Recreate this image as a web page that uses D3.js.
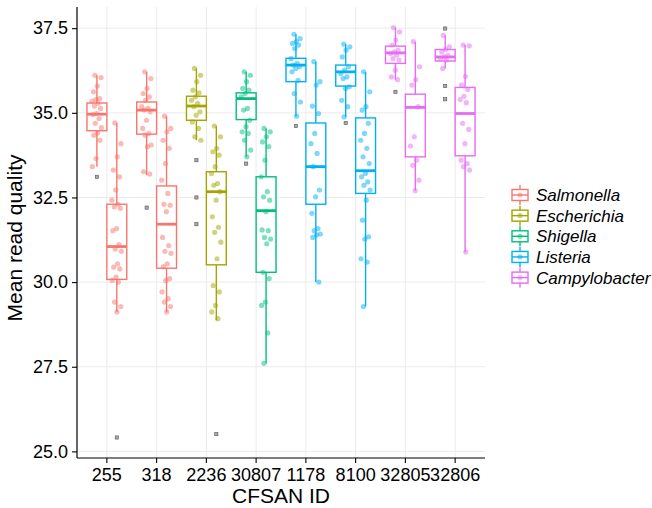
<!DOCTYPE html>
<html>
<head>
<meta charset="utf-8">
<script src="https://cdn.jsdelivr.net/npm/d3@7"></script>
<style>
  body { margin: 0; background: #fff; }
  #chart { width: 652px; height: 508px; }
  text { font-family: "Liberation Sans", Arial, sans-serif; }
</style>
</head>
<body>
<div id="chart"></div>
<script>
const ids = ["255", "318", "2236", "30807", "1178", "8100", "32805", "32806"];
const genera = ["Salmonella", "Escherichia", "Shigella", "Listeria", "Campylobacter"];
const idGenus = ["Salmonella", "Salmonella", "Escherichia", "Shigella", "Listeria", "Listeria", "Campylobacter", "Campylobacter"];
const reads = ["R1", "R2"];
const genusColors = ["#F8766D", "#A3A500", "#00BF7D", "#00B0F6", "#E76BF3"];
const yTicks = [25, 27.5, 30, 32.5, 35, 37.5];

// box stats, ordered id by id, read 1 then read 2
const boxLow  = [33.41, 29.12, 33.16, 29.12, 34.19, 28.87, 33.70, 27.60, 34.90, 30.00, 34.88, 29.28, 35.98, 32.70, 36.31, 30.89];
const boxQ1   = [34.47, 30.08, 34.37, 30.41, 34.78, 30.51, 34.80, 30.29, 35.92, 32.30, 35.79, 32.62, 36.46, 33.70, 36.53, 33.73];
const boxMed  = [34.96, 31.05, 35.08, 31.71, 35.20, 32.67, 35.42, 32.11, 36.41, 33.41, 36.21, 33.29, 36.77, 35.16, 36.65, 34.98];
const boxQ3   = [35.29, 32.30, 35.32, 32.84, 35.49, 33.26, 35.59, 33.11, 36.61, 34.70, 36.41, 34.85, 36.97, 35.55, 36.87, 35.75];
const boxHigh = [36.11, 34.70, 36.21, 34.90, 36.31, 34.61, 36.21, 34.54, 37.32, 36.51, 37.03, 36.21, 37.52, 37.10, 37.29, 37.00];

const outliers = [
  [33.11], [25.41], [32.20], [], [33.60, 32.50, 31.71], [25.51], [33.50], [],
  [34.61], [], [34.70], [], [35.62], [], [37.49, 35.79, 35.40], []
];

const points = [
  [36.11, 36.04, 35.79, 35.62, 35.42, 35.39, 35.34, 35.28, 35.20, 35.13, 34.98, 34.95, 34.83, 34.69, 34.56, 34.41, 34.34, 34.19, 33.65, 33.41],
  [34.70, 34.09, 33.70, 33.31, 33.11, 32.72, 32.42, 32.30, 32.22, 32.18, 31.58, 31.52, 31.11, 30.98, 30.91, 30.54, 30.44, 30.39, 30.15, 30.05, 30.00, 29.41, 29.28, 29.12],
  [36.21, 36.01, 35.72, 35.57, 35.47, 35.37, 35.18, 35.13, 35.08, 35.03, 34.78, 34.54, 34.39, 34.34, 34.05, 34.00, 33.26, 33.19],
  [34.90, 34.54, 34.44, 34.19, 33.95, 33.50, 33.01, 32.62, 32.30, 32.27, 32.08, 31.32, 31.08, 30.91, 30.85, 30.54, 30.46, 30.10, 30.05, 29.71, 29.51, 29.41, 29.28, 29.12],
  [36.31, 36.11, 35.92, 35.67, 35.59, 35.47, 35.37, 35.28, 35.18, 35.03, 34.93, 34.73, 34.54, 34.29, 34.19],
  [34.61, 34.29, 33.95, 33.85, 33.75, 33.41, 33.21, 32.91, 32.86, 32.67, 32.42, 31.93, 31.62, 31.47, 31.18, 30.69, 29.90, 29.71, 29.31, 29.12, 28.92],
  [36.21, 36.11, 35.92, 35.72, 35.67, 35.57, 35.47, 35.13, 35.08, 34.78, 34.59, 34.44, 34.39, 34.19, 33.90, 33.70],
  [34.54, 34.44, 34.29, 34.14, 34.00, 33.60, 33.11, 32.67, 32.52, 32.42, 32.08, 31.54, 31.52, 31.32, 31.27, 31.13, 30.29, 30.10, 29.41, 29.31, 28.50, 27.60],
  [37.32, 37.19, 37.10, 37.05, 37.00, 36.90, 36.60, 36.46, 36.41, 36.36, 36.31, 36.21, 35.96, 35.57, 35.32, 34.90],
  [36.51, 35.92, 35.82, 35.20, 34.98, 34.39, 34.09, 33.80, 33.41, 32.72, 32.52, 32.03, 31.58, 31.52, 31.42, 31.39, 31.32, 30.00],
  [37.03, 36.95, 36.85, 36.65, 36.36, 36.26, 36.16, 36.06, 36.01, 35.77, 35.72, 35.37, 35.18, 34.88],
  [36.21, 35.62, 35.18, 35.08, 34.69, 34.39, 34.19, 33.95, 33.70, 33.50, 33.21, 33.11, 32.96, 32.86, 32.72, 32.42, 31.83, 31.34, 31.27, 30.69, 30.59, 29.28],
  [37.52, 37.39, 37.15, 37.00, 36.85, 36.80, 36.75, 36.70, 36.60, 36.56, 36.26, 36.06, 35.98],
  [37.10, 36.36, 35.98, 35.82, 35.18, 34.29, 34.02, 33.60, 33.45, 33.01, 32.70],
  [37.29, 36.95, 36.87, 36.80, 36.70, 36.65, 36.60, 36.56, 36.31],
  [37.00, 36.98, 36.08, 35.82, 35.69, 35.49, 35.39, 35.30, 34.69, 34.51, 34.09, 33.60, 33.50, 33.41, 33.31, 30.89]
];

function drawChart(width, height) {
  const margin = { top: 7, right: 167, bottom: 50, left: 77 };
  const innerWidth = width - margin.left - margin.right;
  const innerHeight = height - margin.top - margin.bottom;

  const svg = d3.select("#chart")
    .append("svg")
    .attr("width", width)
    .attr("height", height)
    .attr("viewBox", `0 0 ${width} ${height}`);

  const g = svg.append("g")
    .attr("transform", `translate(${margin.left},${margin.top})`);

  const boxes = d3.range(ids.length * 2).map(i => ({
    id: ids[Math.floor(i / 2)],
    read: reads[i % 2],
    genus: idGenus[Math.floor(i / 2)],
    low: boxLow[i], q1: boxQ1[i], med: boxMed[i], q3: boxQ3[i], high: boxHigh[i],
    outliers: outliers[i],
    points: points[i]
  }));

  const allValues = boxes.flatMap(b => [b.low, b.high, ...b.outliers]);
  const [vMin, vMax] = d3.extent(allValues);
  const pad = (vMax - vMin) * 0.05;

  const xScale = d3.scaleBand()
    .domain(ids)
    .range([0, innerWidth])
    .paddingInner(0)
    .paddingOuter(0.1);

  const dodge = d3.scaleBand()
    .domain(reads)
    .range([xScale.bandwidth() * 0.1, xScale.bandwidth() * 0.9]);

  const yScale = d3.scaleLinear()
    .domain([vMin - pad, vMax + pad])
    .range([innerHeight, 0]);

  const color = d3.scaleOrdinal()
    .domain(genera)
    .range(genusColors);

  // grid
  g.append("g")
    .selectAll("line.hgrid")
    .data(yTicks)
    .enter()
    .append("line")
    .attr("x1", 0)
    .attr("x2", innerWidth)
    .attr("y1", d => yScale(d))
    .attr("y2", d => yScale(d))
    .attr("stroke", "#EBEBEB")
    .attr("stroke-width", 1);

  g.append("g")
    .selectAll("line.vgrid")
    .data(ids)
    .enter()
    .append("line")
    .attr("x1", d => xScale(d) + xScale.bandwidth() / 2)
    .attr("x2", d => xScale(d) + xScale.bandwidth() / 2)
    .attr("y1", 0)
    .attr("y2", innerHeight)
    .attr("stroke", "#EBEBEB")
    .attr("stroke-width", 1);

  const boxW = dodge.bandwidth();
  const cx = d => xScale(d.id) + dodge(d.read) + boxW / 2;

  const boxG = g.append("g")
    .selectAll(".box")
    .data(boxes)
    .enter()
    .append("g")
    .attr("class", "box");

  boxG.append("line")
    .attr("x1", cx).attr("x2", cx)
    .attr("y1", d => yScale(d.high))
    .attr("y2", d => yScale(d.q3))
    .attr("stroke", d => color(d.genus))
    .attr("stroke-width", 1.4);

  boxG.append("line")
    .attr("x1", cx).attr("x2", cx)
    .attr("y1", d => yScale(d.q1))
    .attr("y2", d => yScale(d.low))
    .attr("stroke", d => color(d.genus))
    .attr("stroke-width", 1.4);

  boxG.append("rect")
    .attr("x", d => cx(d) - boxW / 2)
    .attr("y", d => yScale(d.q3))
    .attr("width", boxW)
    .attr("height", d => yScale(d.q1) - yScale(d.q3))
    .attr("fill", "#fff")
    .attr("stroke", d => color(d.genus))
    .attr("stroke-width", 1.4);

  boxG.append("line")
    .attr("x1", d => cx(d) - boxW / 2)
    .attr("x2", d => cx(d) + boxW / 2)
    .attr("y1", d => yScale(d.med))
    .attr("y2", d => yScale(d.med))
    .attr("stroke", d => color(d.genus))
    .attr("stroke-width", 2.8);

  // outliers
  boxG.selectAll(".outlier")
    .data(d => d.outliers.map(v => ({ v, x: cx(d) })))
    .enter()
    .append("rect")
    .attr("class", "outlier")
    .attr("x", d => d.x - 1.6)
    .attr("y", d => yScale(d.v) - 1.6)
    .attr("width", 3.2)
    .attr("height", 3.2)
    .attr("fill", "#aaa")
    .attr("stroke", "#555")
    .attr("stroke-width", 0.6);

  // jittered points, spread with a fixed golden-ratio sequence
  const jw = xScale.bandwidth() * 0.1;
  boxG.selectAll(".pt")
    .data(d => d.points.map((v, i) => ({
      v,
      x: cx(d) + (((i * 0.618034 + 0.3) % 1) - 0.5) * 2 * jw,
      genus: d.genus
    })))
    .enter()
    .append("circle")
    .attr("class", "pt")
    .attr("cx", d => d.x)
    .attr("cy", d => yScale(d.v))
    .attr("r", 2.6)
    .attr("fill", d => color(d.genus))
    .attr("fill-opacity", 0.5);

  // axes
  const yAxis = d3.axisLeft(yScale)
    .tickValues(yTicks)
    .tickFormat(d3.format(".1f"))
    .tickSize(5)
    .tickPadding(4);

  const xAxis = d3.axisBottom(xScale)
    .tickSize(5)
    .tickPadding(5);

  const yG = g.append("g").call(yAxis);
  yG.select(".domain").attr("d", `M0,0V${innerHeight}`);

  const xG = g.append("g")
    .attr("transform", `translate(0,${innerHeight})`)
    .call(xAxis);
  xG.select(".domain").attr("d", `M0,0H${innerWidth}`);

  [yG, xG].forEach(ax => {
    ax.select(".domain").attr("stroke", "#000").attr("stroke-width", 1.2);
    ax.selectAll(".tick line").attr("stroke", "#000").attr("stroke-width", 1.1);
    ax.selectAll(".tick text")
      .attr("fill", "#000")
      .style("font-size", "18px")
      .style("font-family", "'Liberation Sans', Arial, sans-serif");
  });

  svg.append("text")
    .attr("x", margin.left + innerWidth / 2)
    .attr("y", 503)
    .attr("text-anchor", "middle")
    .style("font-size", "21px")
    .text("CFSAN ID");

  svg.append("text")
    .attr("transform", "rotate(-90)")
    .attr("x", -238)
    .attr("y", 22)
    .attr("text-anchor", "middle")
    .style("font-size", "21px")
    .text("Mean read quality");

  // legend
  const legend = svg.append("g")
    .attr("transform", "translate(520,195)");

  const item = legend.selectAll(".key")
    .data(genera)
    .enter()
    .append("g")
    .attr("class", "key")
    .attr("transform", (d, i) => `translate(0,${i * 20.65})`);

  item.append("line")
    .attr("x1", 0).attr("x2", 0)
    .attr("y1", -10).attr("y2", 10)
    .attr("stroke", d => color(d))
    .attr("stroke-width", 1.4);

  item.append("rect")
    .attr("x", -8).attr("y", -5.5)
    .attr("width", 16).attr("height", 11)
    .attr("fill", "#fff")
    .attr("stroke", d => color(d))
    .attr("stroke-width", 1.4);

  item.append("line")
    .attr("x1", -8).attr("x2", 8)
    .attr("y1", 0).attr("y2", 0)
    .attr("stroke", d => color(d))
    .attr("stroke-width", 1.4);

  item.append("circle")
    .attr("r", 2.6)
    .attr("fill", d => color(d))
    .attr("fill-opacity", 0.5);

  item.append("text")
    .attr("x", 16)
    .attr("y", 6)
    .style("font-size", "17px")
    .style("font-style", "italic")
    .text(d => d);
}

drawChart(652, 508);
</script>
</body>
</html>
